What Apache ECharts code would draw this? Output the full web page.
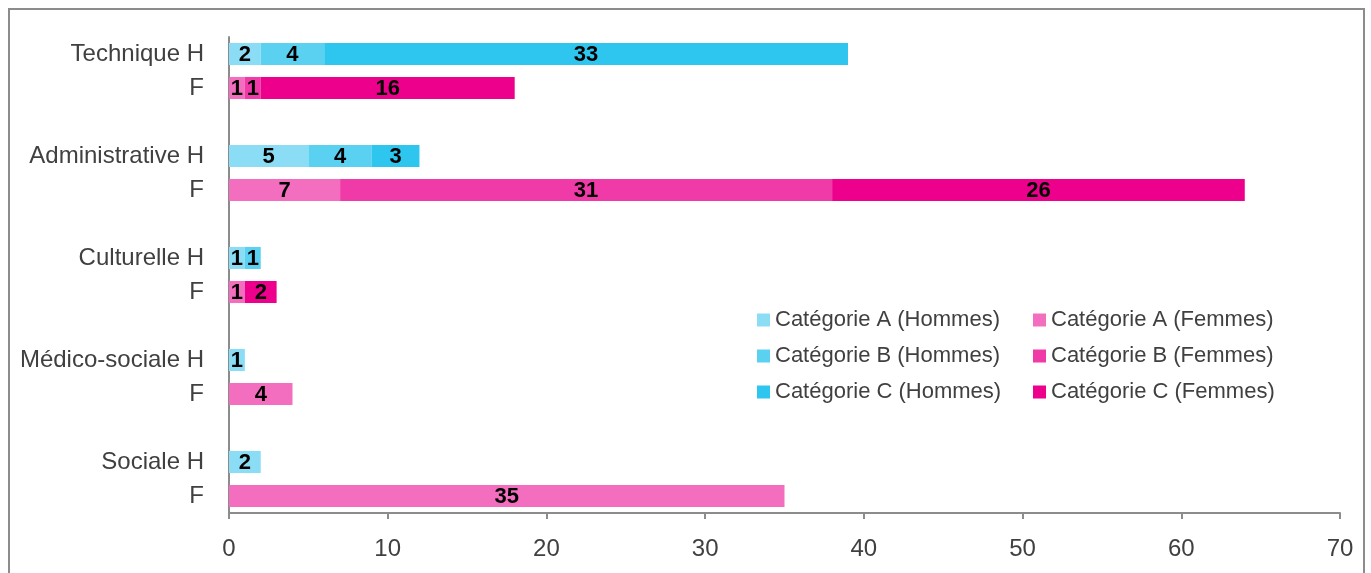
<!DOCTYPE html>
<html>
<head>
<meta charset="utf-8">
<script src="https://cdn.jsdelivr.net/npm/echarts@6/dist/echarts.min.js"></script>
<style>
  html, body { margin: 0; padding: 0; background: #fff; }
  #chart { width: 1371px; height: 573px; }
</style>
</head>
<body>
<div id="chart"></div>
<script>
  // rows top to bottom, blank rows separate the filières
  const categories = [
    "Technique H", "F", "",
    "Administrative H", "F", "",
    "Culturelle H", "F", "",
    "Médico-sociale H", "F", "",
    "Sociale H", "F"
  ];
  const catAHommes = [2, null, null, 5, null, null, 1, null, null, 1, null, null, 2, null];
  const catBHommes = [4, null, null, 4, null, null, 1, null, null, null, null, null, null, null];
  const catCHommes = [33, null, null, 3, null, null, null, null, null, null, null, null, null, null];
  const catAFemmes = [null, 1, null, null, 7, null, null, 1, null, null, 4, null, null, 35];
  const catBFemmes = [null, 1, null, null, 31, null, null, null, null, null, null, null, null, null];
  const catCFemmes = [null, 16, null, null, 26, null, null, 2, null, null, null, null, null, null];
  const xTicks = { min: 0, max: 70, step: 10 };

  const names = [
    "Catégorie A (Hommes)", "Catégorie B (Hommes)", "Catégorie C (Hommes)",
    "Catégorie A (Femmes)", "Catégorie B (Femmes)", "Catégorie C (Femmes)"
  ];
  const colors = ["#8BDDF6", "#5BD1F2", "#2EC5EF", "#F46EBF", "#F03AA7", "#EC008C"];
  const values = [catAHommes, catBHommes, catCHommes, catAFemmes, catBFemmes, catCFemmes];

  const font = "Liberation Sans, Arial, sans-serif";

  let chart = echarts.init(document.getElementById("chart"));

  let series = names.map((n, i) => ({
    name: n,
    type: "bar",
    stack: "total",
    barCategoryGap: "35%",
    itemStyle: { color: colors[i] },
    label: {
      show: true,
      position: "inside",
      color: "#000",
      fontWeight: "bold",
      fontSize: 22,
      fontFamily: font,
      offset: [0, 1],
      formatter: p => (p.value ? String(p.value) : "")
    },
    data: values[i]
  }));

  let legendText = { color: "#404040", fontSize: 22, fontFamily: font, lineHeight: 22 };

  let option = {
    animation: false,
    graphic: [{
      type: "rect",
      shape: { x: 9, y: 9, width: 1355, height: 620 },
      style: { fill: "none", stroke: "#8c8c8c", lineWidth: 2 },
      silent: true
    }],
    legend: [{
      data: names.slice(0, 3),
      orient: "vertical",
      left: 752,
      top: 304,
      icon: "rect",
      itemWidth: 13,
      itemHeight: 13,
      itemGap: 14,
      textStyle: legendText
    }, {
      data: names.slice(3),
      orient: "vertical",
      left: 1028,
      top: 304,
      icon: "rect",
      itemWidth: 13,
      itemHeight: 13,
      itemGap: 14,
      textStyle: legendText
    }],
    grid: { left: 229, right: 31, top: 37, bottom: 60, containLabel: false },
    xAxis: {
      type: "value",
      min: xTicks.min,
      max: xTicks.max,
      interval: xTicks.step,
      splitLine: { show: false },
      axisLine: { show: true, lineStyle: { color: "#8c8c8c", width: 2 } },
      axisTick: { show: true, length: 6, lineStyle: { color: "#8c8c8c", width: 2 } },
      axisLabel: { color: "#404040", fontSize: 24, fontFamily: font, margin: 24 }
    },
    yAxis: {
      type: "category",
      inverse: true,
      data: categories,
      axisLine: { show: true, lineStyle: { color: "#8c8c8c", width: 2 } },
      axisTick: { show: false },
      axisLabel: {
        color: "#404040", fontSize: 24, fontFamily: font, margin: 25, interval: 0,
        lineHeight: 28, padding: [3, 0, 0, 0]
      }
    },
    series
  };
  chart.setOption(option);
</script>
</body>
</html>
